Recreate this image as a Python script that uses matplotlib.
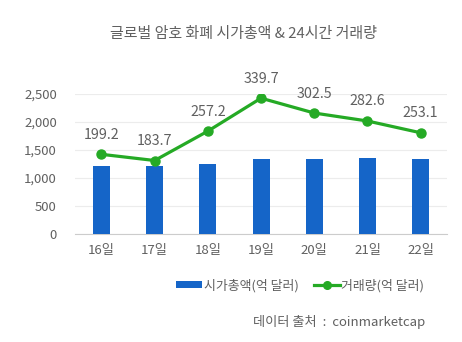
import matplotlib
matplotlib.use("Agg")
import matplotlib.pyplot as plt
from matplotlib.lines import Line2D
from matplotlib.patches import Patch

plt.rcParams['font.family'] = ['Noto Sans CJK KR', 'DejaVu Sans']
plt.rcParams['font.weight'] = 'light'

days = ['16일', '17일', '18일', '19일', '20일', '21일', '22일']
market_cap = [1214, 1214, 1250, 1334, 1334, 1352, 1340]
volume = [199.2, 183.7, 257.2, 339.7, 302.5, 282.6, 253.1]
y_ticks = [0, 500, 1000, 1500, 2000, 2500]

bar_color = '#1565C8'
line_color = '#25AA25'
text_color = '#606060'

fig = plt.figure(figsize=(4.62, 3.42), dpi=100)
ax = fig.add_axes([0.162, 0.316, 0.806, 0.409])
x = list(range(len(days)))

ax.bar(x, market_cap, width=0.32, color=bar_color, zorder=3)
ax.set_ylim(0, 2500)
ax.set_xlim(-0.5, 6.5)
ax.set_yticks(y_ticks)
ax.set_yticklabels([f'{v:,}' for v in y_ticks])
ax.set_xticks(x)
ax.set_xticklabels(days)
ax.grid(axis='y', color='#ececec', linewidth=0.8, zorder=0)
for s in ['top', 'right', 'left']:
    ax.spines[s].set_visible(False)
ax.spines['bottom'].set_color('#cccccc')
ax.tick_params(axis='both', length=0, colors=text_color, labelsize=9.5)
ax.tick_params(axis='y', pad=13)
ax.tick_params(axis='x', pad=7)

ax2 = ax.twinx()
ax2.set_ylim(0, 350)
ax2.plot(x, volume, color=line_color, linewidth=2.3, marker='o',
         markersize=6.5, zorder=4)
for xi, v in zip(x, volume):
    ax2.annotate(f'{v:.1f}', (xi, v), xytext=(0, 9), textcoords='offset points',
                 ha='center', va='bottom', fontsize=10.3, color=text_color)
ax2.set_yticks([])
for s in ax2.spines.values():
    s.set_visible(False)

fig.text(0.527, 0.9, '글로벌 암호 화폐 시가총액 & 24시간 거래량', ha='center', va='center',
         fontsize=10.8, color=text_color)

handles = [Patch(facecolor=bar_color, edgecolor='none'),
           Line2D([0], [0], color=line_color, linewidth=2.3, marker='o', markersize=5.5)]
fig.legend(handles, ['시가총액(억 달러)', '거래량(억 달러)'], loc='center',
           bbox_to_anchor=(0.65, 0.165), ncol=2, frameon=False, fontsize=9.3,
           labelcolor=text_color, handlelength=2.0, handleheight=0.5,
           handletextpad=0.1, columnspacing=1.2)

fig.text(0.92, 0.058, '데이터 출처  :  coinmarketcap', ha='right', va='center',
         fontsize=9.5, color=text_color)

fig.savefig('out.png', dpi=100)
